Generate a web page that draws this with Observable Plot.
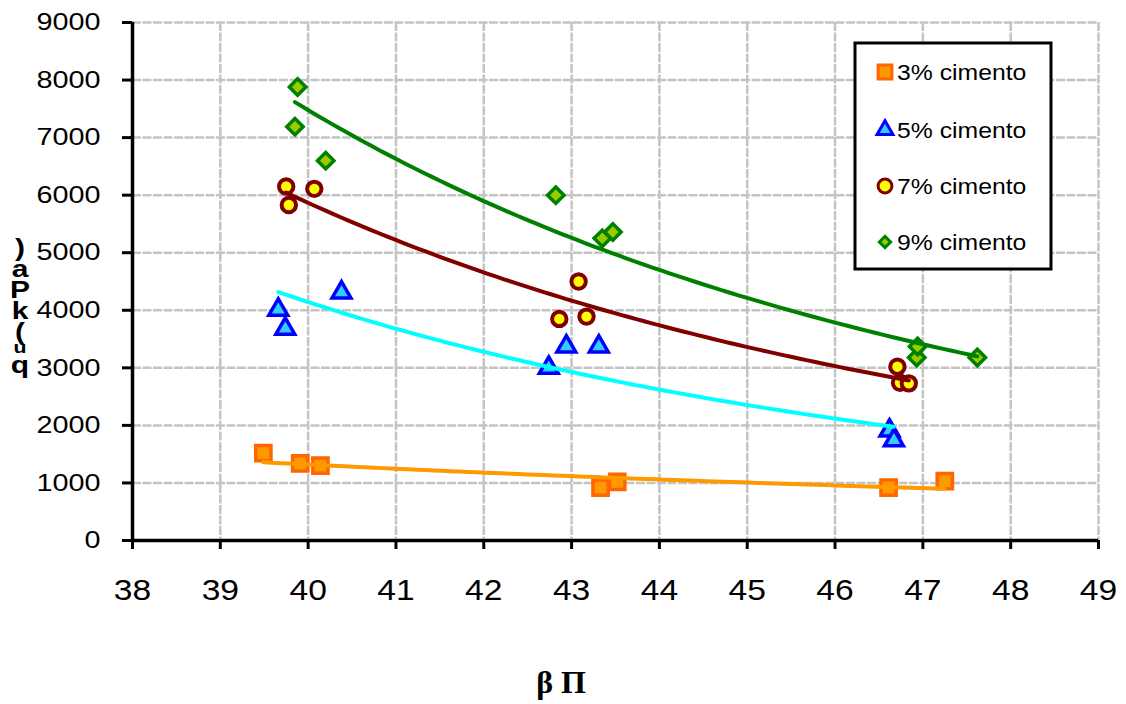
<!DOCTYPE html>
<html>
<head>
<meta charset="utf-8">
<script src="https://cdn.jsdelivr.net/npm/d3@7"></script>
<script src="https://cdn.jsdelivr.net/npm/@observablehq/plot@0.6"></script>
<style>
  html, body { margin: 0; padding: 0; background: #fff; }
  svg { display: block; }
</style>
</head>
<body>
<div id="chart"></div>
<script>
// ---- Data ----
const xTicks = [38, 39, 40, 41, 42, 43, 44, 45, 46, 47, 48, 49];
const yTicks = [0, 1000, 2000, 3000, 4000, 5000, 6000, 7000, 8000, 9000];
const seriesNames = ["3% cimento", "5% cimento", "7% cimento", "9% cimento"];

const x3 = [39.49, 39.91, 40.14, 43.33, 43.52, 46.61, 47.25];
const y3 = [1520, 1340, 1300, 920, 1020, 920, 1030];

const x5 = [39.66, 39.74, 40.38, 42.74, 42.94, 43.31, 46.62, 46.67];
const y5 = [4010, 3680, 4310, 3000, 3370, 3370, 1910, 1740];

const x7 = [39.75, 39.78, 40.07, 43.08, 42.86, 43.17, 46.71, 46.74, 46.84];
const y7 = [6150, 5830, 6110, 4500, 3850, 3890, 3020, 2740, 2730];

const x9 = [39.88, 39.85, 40.20, 42.82, 43.35, 43.47, 46.93, 46.94, 47.62];
const y9 = [7880, 7190, 6600, 6000, 5250, 5360, 3180, 3370, 3180];

const yLabelChars = [")", "a", "P", "k", "(", "u", "q"];
const xLabelText = "β Π";

// ---- Styles ----
const styles = [
  {symbol: "square",   r: 8.6, sw: 3.5, fill: "#FF9900", stroke: "#FF6600", line: "#FF9900", lsym: d3.symbolSquare,   lsize: 190},
  {symbol: "triangle", r: 7.0, sw: 3.5, fill: "#33CCFF", stroke: "#0000FF", line: "#00FFFF", lsym: d3.symbolTriangle, lsize: 110},
  {symbol: "circle",   r: 7.2, sw: 4,   fill: "#FFFF00", stroke: "#800000", line: "#800000", lsym: d3.symbolCircle,   lsize: 150},
  {symbol: "diamond2", r: 7.4, sw: 3.5, fill: "#99CC00", stroke: "#008000", line: "#008000", lsym: d3.symbolDiamond2, lsize: 80}
];

const raw = [[x3, y3], [x5, y5], [x7, y7], [x9, y9]];
const points = raw.map(([xs, ys], s) => xs.map((x, i) => ({x, y: ys[i], s: seriesNames[s]})));

// Power trendline (Excel-style: least squares of ln y on ln x)
function powerTrend([xs, ys]) {
  const lx = xs.map(Math.log), ly = ys.map(Math.log);
  const mx = d3.mean(lx), my = d3.mean(ly);
  let sxy = 0, sxx = 0;
  lx.forEach((v, i) => { sxy += (v - mx) * (ly[i] - my); sxx += (v - mx) ** 2; });
  const b = sxy / sxx, a = Math.exp(my - b * mx);
  const [lo, hi] = d3.extent(xs);
  const n = 80;
  return d3.range(n + 1).map(i => {
    const x = lo + (hi - lo) * i / n;
    return {x, y: a * Math.pow(x, b)};
  });
}
const trends = raw.map(powerTrend);

const FONT = "'Liberation Sans', Arial, sans-serif";
const GRID = {stroke: "#c4c4c4", strokeOpacity: 1, strokeWidth: 2.5, strokeDasharray: "9,1.5"};

const marks = [
  Plot.gridX(xTicks, GRID),
  Plot.gridY(yTicks, GRID),
];
points.forEach((pts, s) => {
  const st = styles[s];
  marks.push(Plot.dot(pts, {x: "x", y: "y", symbol: () => st.symbol, r: st.r, fill: st.fill, stroke: st.stroke, strokeWidth: st.sw}));
});
trends.forEach((t, s) => {
  marks.push(Plot.line(t, {x: "x", y: "y", stroke: styles[s].line, strokeWidth: 4}));
});
marks.push(
  Plot.ruleX([38], {stroke: "#000", strokeWidth: 3.5}),
  Plot.ruleY([0], {stroke: "#000", strokeWidth: 3.5}),
  Plot.axisY(yTicks, {tickSize: 10, tickPadding: 22, fontSize: 24, strokeWidth: 3, stroke: "#000", fill: "#000", tickFormat: d => String(d), label: null}),
  Plot.axisX(xTicks, {tickSize: 9, tickPadding: 29, fontSize: 30, strokeWidth: 3, stroke: "#000", fill: "#000", tickFormat: d => String(d), label: null})
);

const svg = Plot.plot({
  width: 1126,
  height: 704,
  marginLeft: 132,
  marginRight: 28,
  marginTop: 22,
  marginBottom: 164,
  style: {fontFamily: FONT, color: "#000", background: "#fff", overflow: "visible"},
  x: {domain: [38, 49]},
  y: {domain: [0, 9000]},
  symbol: {type: "identity"},
  marks
});
document.getElementById("chart").appendChild(svg);

const s = d3.select(svg);

// Horizontally stretch texts (reference glyphs are wide)
function stretch(sel, k) {
  sel.each(function () {
    const w = this.getComputedTextLength();
    if (w > 0) {
      this.setAttribute("textLength", (w * k).toFixed(1));
      this.setAttribute("lengthAdjust", "spacingAndGlyphs");
    }
  });
}
stretch(s.selectAll('[aria-label="y-axis tick label"] text'), 1.2);
stretch(s.selectAll('[aria-label="x-axis tick label"] text'), 1.12);

// ---- Legend ----
const lg = s.append("g").attr("class", "legend").attr("text-anchor", "start");
lg.append("rect").attr("x", 855).attr("y", 43).attr("width", 196).attr("height", 226)
  .attr("fill", "#fff").attr("stroke", "#000").attr("stroke-width", 3);
const rowsY = [72, 130, 186, 242];
seriesNames.forEach((name, i) => {
  const st = styles[i];
  lg.append("path").attr("d", d3.symbol(st.lsym, st.lsize)())
    .attr("transform", `translate(885,${rowsY[i]})`)
    .attr("fill", st.fill).attr("stroke", st.stroke).attr("stroke-width", 3);
  lg.append("text").attr("x", 897).attr("y", rowsY[i]).attr("dy", "0.36em")
    .attr("text-anchor", "start")
    .attr("font-family", FONT).attr("font-size", 22.5).attr("fill", "#000").text(name);
});
stretch(lg.selectAll("text"), 1.1);

// ---- Y axis label (stacked upright characters, as in the reference) ----
const yl = s.append("text")
  .attr("x", 16).attr("y", 234)
  .attr("transform", "scale(1.25,1)")
  .attr("text-anchor", "start")
  .style("writing-mode", "vertical-rl")
  .style("text-orientation", "upright")
  .style("letter-spacing", "-6.5px")
  .attr("font-family", FONT).attr("font-weight", "bold").attr("font-size", 24)
  .attr("fill", "#000");
yLabelChars.forEach((c) => {
  const t = yl.append("tspan").text(c);
  if (c === "u") t.attr("font-size", 17);
});

// ---- X axis label ----
s.append("text").attr("x", 561).attr("y", 693).attr("text-anchor", "middle")
  .attr("font-family", "'Liberation Serif', 'Times New Roman', serif").attr("font-weight", "bold")
  .attr("font-size", 32).attr("fill", "#000").text(xLabelText);
</script>
</body>
</html>
